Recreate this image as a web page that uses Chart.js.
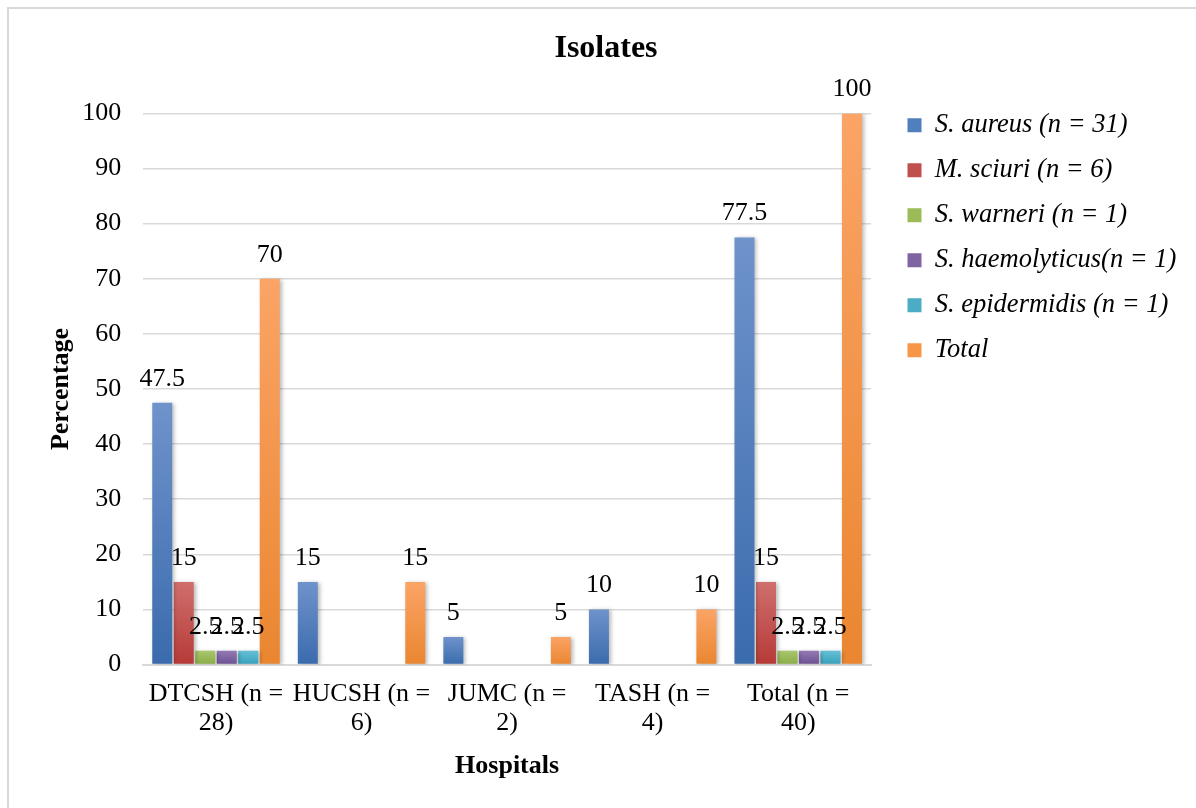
<!DOCTYPE html>
<html>
<head>
<meta charset="utf-8">
<script src="https://cdn.jsdelivr.net/npm/chart.js@4.4.1/dist/chart.umd.min.js"></script>
<style>
  html, body { margin: 0; padding: 0; background: #ffffff; }
  #frame { position: absolute; left: 7px; top: 7px; width: 1189px; height: 801px;
           border-left: 2px solid #d9d9d9; border-top: 2px solid #d9d9d9; box-sizing: border-box; }
  #wrap { position: absolute; left: 0; top: 0; width: 1196px; height: 808px; }
</style>
</head>
<body>
<div id="frame"></div>
<div id="wrap"><canvas id="chart" width="1196" height="808"></canvas></div>
<script>
// Hospitals on the x axis (two-line tick labels)
const hospitals = [
  ['DTCSH (n =', '28)'],
  ['HUCSH (n =', '6)'],
  ['JUMC (n =', '2)'],
  ['TASH (n =', '4)'],
  ['Total (n =', '40)']
];

// Percentage of isolates per species and hospital
const sAureus       = [47.5, 15, 5, 10, 77.5];
const mSciuri       = [15, 0, 0, 0, 15];
const sWarneri      = [2.5, 0, 0, 0, 2.5];
const sHaemolyticus = [2.5, 0, 0, 0, 2.5];
const sEpidermidis  = [2.5, 0, 0, 0, 2.5];
const totals        = [70, 15, 5, 10, 100];

const seriesNames = [
  'S. aureus (n = 31)',
  'M. sciuri (n = 6)',
  'S. warneri (n = 1)',
  'S. haemolyticus(n = 1)',
  'S. epidermidis (n = 1)',
  'Total'
];

// [top, bottom, legend] colour per series
const palette = [
  ['#6f93cb', '#3a6bad', '#4f7fbd'],
  ['#cf6f6d', '#b63a37', '#c0504d'],
  ['#a9c66b', '#8aad47', '#9bbb59'],
  ['#9379b4', '#6c5192', '#8064a2'],
  ['#66c0d6', '#36a0bc', '#4bacc6'],
  ['#fba466', '#ea8630', '#f79646']
];

const serif = "'Liberation Serif', 'Times New Roman', serif";

function barGradient(idx) {
  return function (ctx) {
    const chart = ctx.chart;
    const [top, bottom, mid] = palette[idx];
    if (!chart.chartArea || !chart.scales.y || ctx.type !== 'data') return mid;
    const y = chart.scales.y;
    const v = ctx.parsed ? ctx.parsed.y : ctx.raw;
    const y0 = y.getPixelForValue(0);
    const y1 = y.getPixelForValue(v || 0);
    if (!isFinite(y0) || !isFinite(y1) || Math.abs(y0 - y1) < 1) return bottom;
    const g = chart.ctx.createLinearGradient(0, y1, 0, y0);
    g.addColorStop(0, top);
    g.addColorStop(1, bottom);
    return g;
  };
}

const seriesData = [sAureus, mSciuri, sWarneri, sHaemolyticus, sEpidermidis, totals];

const datasets = seriesData.map((values, i) => ({
  label: seriesNames[i],
  data: values,
  backgroundColor: barGradient(i),
  borderWidth: 0,
  categoryPercentage: 0.886,
  barPercentage: 0.93
}));

// Soft drop shadow behind the bars
const barShadow = {
  id: 'barShadow',
  beforeDatasetDraw(chart) {
    const c = chart.ctx;
    c.save();
    c.shadowColor = 'rgba(0,0,0,0.28)';
    c.shadowBlur = 4;
    c.shadowOffsetX = 2;
    c.shadowOffsetY = 1;
  },
  afterDatasetDraw(chart) {
    chart.ctx.restore();
  }
};

// Value labels above each non-zero bar
const valueLabels = {
  id: 'valueLabels',
  afterDatasetsDraw(chart) {
    const c = chart.ctx;
    c.save();
    c.font = '26px ' + serif;
    c.fillStyle = '#000000';
    c.textAlign = 'center';
    c.textBaseline = 'alphabetic';
    chart.data.datasets.forEach((ds, di) => {
      const meta = chart.getDatasetMeta(di);
      meta.data.forEach((bar, i) => {
        const v = ds.data[i];
        if (!v) return;
        c.fillText(String(v), bar.x, bar.y - 17);
      });
    });
    c.restore();
  }
};

// Extra space between the plot and the legend, and legend lifted to the top of the plot
const LEGEND_GAP = 18;
const LEGEND_LIFT = 20;
const legendPlacement = {
  id: 'legendPlacement',
  beforeLayout(chart) {
    const lg = chart.legend;
    if (lg && !lg._gapWrapped) {
      const fit = lg.fit;
      lg.fit = function () { fit.call(this); this.width += LEGEND_GAP; };
      lg._gapWrapped = true;
    }
  },
  afterLayout(chart) {
    const lg = chart.legend;
    if (lg) {
      lg.left += LEGEND_GAP;
      lg.right = chart.width;
      lg.top -= LEGEND_LIFT;
      lg.bottom -= LEGEND_LIFT;
    }
  }
};

new Chart(document.getElementById('chart'), {
  type: 'bar',
  data: { labels: hospitals, datasets },
  plugins: [barShadow, valueLabels, legendPlacement],
  options: {
    responsive: false,
    animation: false,
    layout: { padding: { left: 40, right: 24, top: 0, bottom: 22 } },
    plugins: {
      title: {
        display: true,
        text: 'Isolates',
        color: '#000000',
        font: { family: serif, size: 32, weight: 'bold', lineHeight: 1.2 },
        padding: { top: 30, bottom: 45 }
      },
      legend: {
        position: 'right',
        align: 'start',
        fullSize: false,
        labels: {
          color: '#000000',
          font: { family: serif, size: 26.5, style: 'italic' },
          boxWidth: 14,
          boxHeight: 14,
          padding: 18.5,
          generateLabels(chart) {
            return chart.data.datasets.map((ds, i) => ({
              text: ds.label,
              fillStyle: palette[i][2],
              strokeStyle: palette[i][2],
              lineWidth: 0,
              hidden: false,
              datasetIndex: i,
              fontColor: '#000000'
            }));
          }
        }
      },
      tooltip: { enabled: false }
    },
    scales: {
      x: {
        grid: { display: false, drawTicks: false },
        border: { display: true, color: '#d9d9d9', width: 2 },
        ticks: {
          color: '#000000',
          font: { family: serif, size: 26, lineHeight: 1.12 },
          maxRotation: 0,
          autoSkip: false,
          padding: 15
        },
        afterFit(scale) {
          scale.height -= 4;
        },
        title: {
          display: true,
          text: 'Hospitals',
          color: '#000000',
          font: { family: serif, size: 26, weight: 'bold', lineHeight: 1.2 },
          padding: { top: 2, bottom: 4 }
        }
      },
      y: {
        min: 0,
        max: 100,
        ticks: {
          stepSize: 10,
          color: '#000000',
          font: { family: serif, size: 26 },
          padding: 22
        },
        afterFit(scale) {
          scale.width -= 23;
        },
        grid: { color: '#d9d9d9', lineWidth: 1.5, drawTicks: false },
        border: { display: false },
        title: {
          display: true,
          text: 'Percentage',
          color: '#000000',
          font: { family: serif, size: 26, weight: 'bold', lineHeight: 1.2 },
          padding: { top: 6, bottom: 6 }
        }
      }
    }
  }
});
</script>
</body>
</html>
